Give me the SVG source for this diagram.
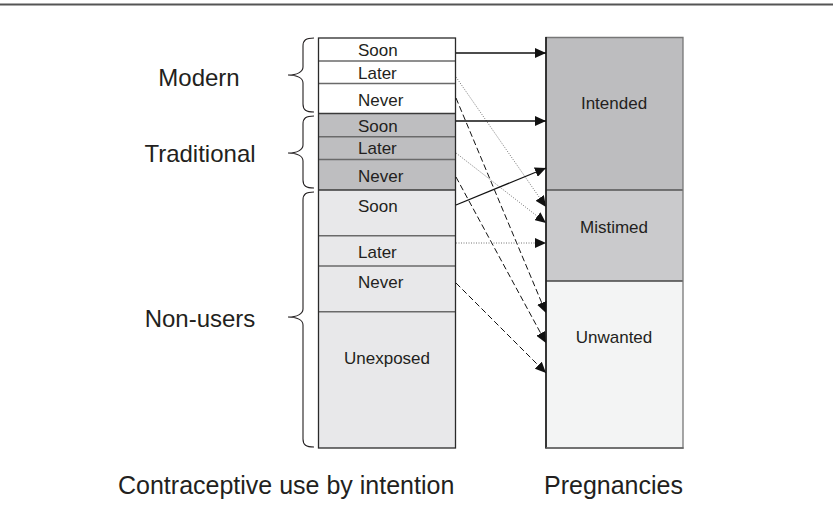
<svg xmlns="http://www.w3.org/2000/svg" width="835" height="532" viewBox="0 0 835 532">
<style>
text{font-family:"Liberation Sans",Arial,sans-serif;fill:#231f20}
.box{font-size:17px}
.grp{font-size:24px;text-anchor:middle}
.foot{font-size:25px}
.ctr{text-anchor:middle}
.div{stroke:#6a6a6a;stroke-width:1.5}
.gdiv{stroke:#3a3a3a;stroke-width:1.5}
.brace{fill:none;stroke:#231f20;stroke-width:1.1}
.solid{stroke:#111;stroke-width:1.3;fill:none}
.dot{stroke:#666;stroke-width:0.9;stroke-dasharray:1 1.5;fill:none}
.dash{stroke:#111;stroke-width:1;stroke-dasharray:6 3;fill:none}
</style>
<defs>
<marker id="ah" markerUnits="userSpaceOnUse" markerWidth="12" markerHeight="10" refX="11" refY="5" orient="auto">
<path d="M0,0 L11,5 L0,10 Z" fill="#111"/>
</marker>
</defs>
<rect width="835" height="532" fill="#fff"/>
<line x1="0" y1="4.5" x2="833" y2="4.5" stroke="#555" stroke-width="2"/>

<g id="modern">
<rect x="318.5" y="38" width="137" height="75" fill="#fff"/>
<path class="brace" d="M314,38 C306,38 303,40 303,46 L303,67 C303,72 297,75 288,75 C297,75 303,78 303,83 L303,104 C303,110 306,112 314,112"/>
<text class="grp" x="199" y="86">Modern</text>
</g>
<g id="modern-soon"><text class="box" x="358" y="56">Soon</text></g>
<g id="modern-later"><line class="div" x1="318.5" y1="61" x2="455.5" y2="61"/><text class="box" x="358" y="79">Later</text></g>
<g id="modern-never"><line class="div" x1="318.5" y1="83.5" x2="455.5" y2="83.5"/><text class="box" x="358" y="106">Never</text></g>

<g id="traditional">
<rect x="318.5" y="113.5" width="137" height="76.5" fill="#bebec0"/>
<line class="gdiv" x1="318.5" y1="113.5" x2="455.5" y2="113.5"/>
<path class="brace" d="M314,116 C306,116 303,118 303,124 L303,145 C303,150 297,153 288,153 C297,153 303,156 303,161 L303,180 C303,186 306,188 314,188"/>
<text class="grp" x="200" y="162">Traditional</text>
</g>
<g id="trad-soon"><text class="box" x="358" y="132">Soon</text></g>
<g id="trad-later"><line class="div" x1="318.5" y1="136.7" x2="455.5" y2="136.7"/><text class="box" x="358" y="154">Later</text></g>
<g id="trad-never"><line class="div" x1="318.5" y1="159.5" x2="455.5" y2="159.5"/><text class="box" x="358" y="182">Never</text></g>

<g id="nonusers">
<rect x="318.5" y="190" width="137" height="258" fill="#e8e8ea"/>
<line class="gdiv" x1="318.5" y1="190" x2="455.5" y2="190"/>
<path class="brace" d="M314,192 C306,192 303,194 303,200 L303,309 C303,314 297,317 288,317 C297,317 303,320 303,325 L303,439 C303,445 306,447 314,447"/>
<text class="grp" x="200" y="327">Non-users</text>
</g>
<g id="nu-soon"><text class="box" x="358" y="212">Soon</text></g>
<g id="nu-later"><line class="div" x1="318.5" y1="235.7" x2="455.5" y2="235.7"/><text class="box" x="358" y="258">Later</text></g>
<g id="nu-never"><line class="div" x1="318.5" y1="266" x2="455.5" y2="266"/><text class="box" x="358" y="288">Never</text></g>
<g id="nu-unexposed"><line class="div" x1="318.5" y1="311.7" x2="455.5" y2="311.7"/><text class="box ctr" x="387" y="364">Unexposed</text></g>
<rect x="318.5" y="38" width="137" height="410" fill="none" stroke="#2a2a2a" stroke-width="1.3"/>

<g id="intended">
<rect x="546" y="37.5" width="137" height="152.5" fill="#bdbdbf"/>
<text class="box ctr" x="614" y="109">Intended</text>
</g>
<g id="mistimed">
<rect x="546" y="190" width="137" height="91" fill="#cacacc"/>
<line x1="546" y1="190" x2="683" y2="190" stroke="#555" stroke-width="1.5"/>
<text class="box ctr" x="614" y="233">Mistimed</text>
</g>
<g id="unwanted">
<rect x="546" y="281" width="137" height="167" fill="#f3f4f4"/>
<line x1="546" y1="281" x2="683" y2="281" stroke="#444" stroke-width="1.5"/>
<text class="box ctr" x="614" y="343">Unwanted</text>
</g>
<path d="M546,448 L546,37.5 L683,37.5 L683,448 Z" fill="none" stroke="#777" stroke-width="1.3"/>
<line x1="546" y1="37" x2="546" y2="448.5" stroke="#111" stroke-width="1.5"/>
<line x1="546" y1="448" x2="683.6" y2="448" stroke="#666" stroke-width="1.6"/>

<g id="connectors">
<line class="solid" x1="456" y1="53" x2="546" y2="53" marker-end="url(#ah)"/>
<line class="dot" x1="456" y1="77" x2="546" y2="207" marker-end="url(#ah)"/>
<line class="dash" x1="456" y1="98" x2="546" y2="313" marker-end="url(#ah)"/>
<line class="solid" x1="456" y1="121" x2="546" y2="121" marker-end="url(#ah)"/>
<line class="dot" x1="456" y1="153" x2="546" y2="223" marker-end="url(#ah)"/>
<line class="dash" x1="456" y1="177" x2="546" y2="343" marker-end="url(#ah)"/>
<line class="solid" x1="456" y1="205" x2="546" y2="168" marker-end="url(#ah)"/>
<line class="dot" x1="456" y1="243" x2="546" y2="243" marker-end="url(#ah)"/>
<line class="dash" x1="456" y1="283" x2="546" y2="373" marker-end="url(#ah)"/>
</g>

<g id="footer">
<text class="foot" x="118" y="494">Contraceptive use by intention</text>
<text class="foot" x="544" y="494">Pregnancies</text>
</g>
</svg>
